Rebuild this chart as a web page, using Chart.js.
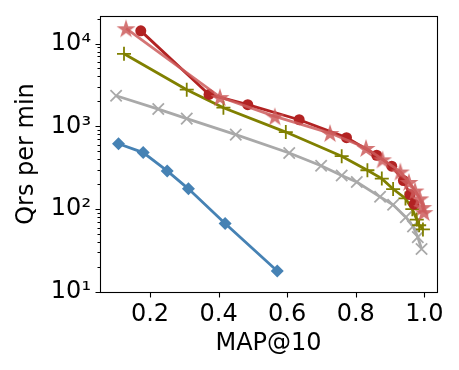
<!DOCTYPE html>
<html><head><meta charset="utf-8">
<script src="https://cdn.jsdelivr.net/npm/chart.js@4/dist/chart.umd.min.js"></script>
<style>html,body{margin:0;padding:0;background:#fff}</style>
</head><body><canvas id="c" width="459" height="370"></canvas>
<script>
// ---- data ----
const blueX  = [0.108, 0.180, 0.250, 0.312, 0.419, 0.571];
const blueY  = [616, 482, 290, 176, 67, 17.9];
const grayX  = [0.101, 0.224, 0.307, 0.450, 0.606, 0.699, 0.759, 0.803, 0.871, 0.909, 0.946, 0.967, 0.981, 0.992];
const grayY  = [2344, 1618, 1240, 795, 477, 335, 255, 213, 141, 113, 80, 62, 46, 33];
const oliveX = [0.124, 0.307, 0.414, 0.596, 0.759, 0.834, 0.876, 0.909, 0.945, 0.965, 0.978, 0.985, 0.996];
const oliveY = [7520, 2770, 1680, 853, 436, 295, 234, 175, 135, 100, 75, 64, 57];
const redX   = [0.173, 0.372, 0.485, 0.635, 0.773, 0.861, 0.905, 0.939, 0.958, 0.970];
const redY   = [14220, 2430, 1825, 1203, 731, 448, 330, 222, 150, 115];
const starX  = [0.130, 0.404, 0.564, 0.725, 0.830, 0.878, 0.930, 0.955, 0.973, 0.987, 0.995, 0.999];
const starY  = [15280, 2255, 1320, 830, 548, 400, 285, 213, 168, 135, 106, 92];
const xTicks = [0.2, 0.4, 0.6, 0.8, 1.0];
const yTicks = [10, 100, 1000, 10000];
const xTitle = 'MAP@10';
const yTitle = 'Qrs per min';

const pts = (xs, ys) => xs.map((x, i) => ({x: x, y: ys[i]}));
const sup = {'0':'⁰','1':'¹','2':'²','3':'³','4':'⁴','5':'⁵','6':'⁶','7':'⁷','8':'⁸','9':'⁹'};

function starCanvas(r, color) {
  const s = Math.ceil(r * 2 + 2);
  const cv = document.createElement('canvas');
  cv.width = s; cv.height = s;
  const g = cv.getContext('2d');
  const cx = s / 2, cy = s / 2 + r * 0.1, ri = r * 0.382;
  g.beginPath();
  for (let k = 0; k < 10; k++) {
    const rr = k % 2 === 0 ? r : ri;
    const a = -Math.PI / 2 + k * Math.PI / 5;
    const px = cx + rr * Math.cos(a), py = cy + rr * Math.sin(a);
    if (k === 0) g.moveTo(px, py); else g.lineTo(px, py);
  }
  g.closePath();
  g.fillStyle = color; g.fill();
  return cv;
}

const FONT = 'DejaVu Sans';
const tickMarks = {
  id: 'tickMarks',
  afterDatasetsDraw(chart) {
    const {ctx, chartArea: a, scales: {x, y}} = chart;
    ctx.save();
    ctx.strokeStyle = '#000';
    ctx.lineWidth = 1.1;
    const L = Math.round(a.left) + 0.5, R = Math.round(a.right) + 0.5;
    const T = Math.round(a.top) + 0.5, B = Math.round(a.bottom) + 0.5;
    ctx.strokeRect(L, T, R - L, B - T);
    ctx.beginPath();
    xTicks.forEach(v => {
      const p = Math.round(x.getPixelForValue(v)) + 0.5;
      ctx.moveTo(p, B); ctx.lineTo(p, B + 5);
    });
    for (let d = 1; d <= 4; d++) {
      for (let m = 1; m <= 9; m++) {
        const v = m * Math.pow(10, d);
        if (v > y.max) continue;
        const p = Math.round(y.getPixelForValue(v)) + 0.5;
        ctx.moveTo(L, p); ctx.lineTo(L - (m === 1 ? 5 : 3), p);
      }
    }
    ctx.stroke();
    ctx.restore();
  }
};

new Chart(document.getElementById('c'), {
  type: 'scatter',
  data: {
    datasets: [
      {data: pts(starX, starY), showLine: true, borderColor: 'rgba(205,92,92,0.85)', borderWidth: 2.8,
       pointStyle: starCanvas(10, 'rgba(205,92,92,0.85)'), order: 0},
      {data: pts(redX, redY), showLine: true, borderColor: '#b22222', backgroundColor: '#b22222', borderWidth: 2.8,
       pointStyle: 'circle', pointRadius: 5.5, pointBorderWidth: 0, order: 1},
      {data: pts(oliveX, oliveY), showLine: true, borderColor: '#808000', backgroundColor: '#808000', borderWidth: 2.8,
       pointStyle: 'cross', pointRadius: 7, pointBorderWidth: 1.8, order: 2},
      {data: pts(grayX, grayY), showLine: true, borderColor: '#a9a9a9', backgroundColor: '#a9a9a9', borderWidth: 2.8,
       pointStyle: 'crossRot', pointRadius: 8, pointBorderWidth: 1.8, order: 3},
      {data: pts(blueX, blueY), showLine: true, borderColor: '#4682b4', backgroundColor: '#4682b4', borderWidth: 2.8,
       pointStyle: 'rectRot', pointRadius: 6.5, pointBorderWidth: 0, order: 4}
    ]
  },
  options: {
    responsive: false,
    animation: false,
    devicePixelRatio: 1,
    layout: {autoPadding: false, padding: {left: 0, right: 22, top: 16, bottom: 0}},
    plugins: {legend: {display: false}, tooltip: {enabled: false}},
    scales: {
      x: {
        type: 'linear', min: 0.054, max: 1.037,
        afterBuildTicks: s => { s.ticks = xTicks.map(v => ({value: v})); },
        afterFit: s => { s.height = 78; s.paddingLeft = 0; s.paddingRight = 0; },
        grid: {display: false, drawTicks: false},
        border: {display: false},
        ticks: {padding: 8, color: '#000', font: {family: FONT, size: 24},
                callback: v => v.toFixed(1)},
        title: {display: true, text: xTitle, color: '#000', font: {family: FONT, size: 24},
                padding: {top: 0, bottom: 12}}
      },
      y: {
        type: 'logarithmic', min: 10, max: 21500,
        afterBuildTicks: s => { s.ticks = yTicks.map(v => ({value: v, major: true})); },
        afterFit: s => { s.width = 100; s.paddingTop = 0; s.paddingBottom = 0; },
        grid: {display: false, drawTicks: false},
        border: {display: false},
        ticks: {padding: 9, color: '#000', font: {family: FONT, size: 24},
                callback: v => '10' + String(Math.round(Math.log10(v))).split('').map(c => sup[c]).join('')},
        title: {display: true, text: yTitle, color: '#000', font: {family: FONT, size: 24},
                padding: {top: 12, bottom: 0}}
      }
    }
  },
  plugins: [tickMarks]
});
</script>
</body></html>
